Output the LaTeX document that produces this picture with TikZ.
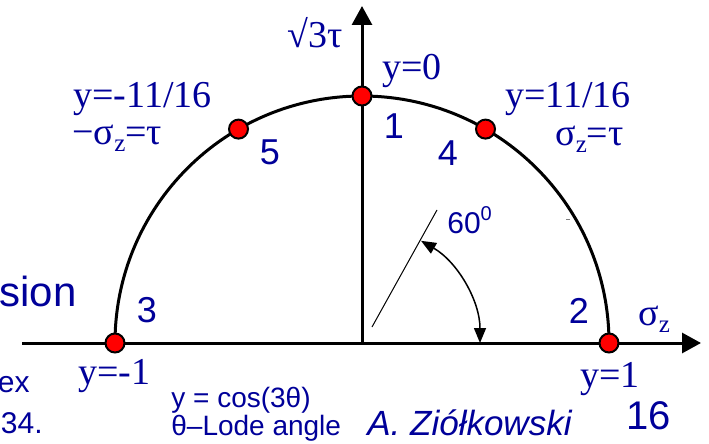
\documentclass[tikz,border=0pt]{standalone}
\usepackage{fontspec}
\setmainfont{Liberation Sans}
\newfontfamily\tnr{Liberation Serif}
\usepackage{tikz}
\usetikzlibrary{arrows.meta}
\definecolor{navy}{RGB}{0,0,153}
\tikzset{every picture/.style={line width=0.75pt}}
\tikzset{
  serif/.style={text=navy,inner sep=0pt,anchor=base west,font=\tnr\fontsize{38}{38}\selectfont},
  sans/.style={text=navy,inner sep=0pt,font=\fontsize{36}{36}\selectfont},
  dot/.style={circle,draw=black,fill=red,line width=2pt,minimum size=19pt,inner sep=0pt},
}
\newcommand{\zsub}{\raisebox{-7pt}{\fontsize{25}{25}\selectfont z}}
\begin{document}
\begin{tikzpicture}[x=1pt,y=1pt,yscale=-1,xscale=1]
    \useasboundingbox (0,0) rectangle (709,444);
    \coordinate (O) at (362,343);
    \coordinate (xl) at (22,343);
    \coordinate (xr) at (701,343);
    \coordinate (yt) at (362,6);
    % axes and the half circle
    \draw [line width=3pt,-{Triangle[length=19pt,width=20pt]}] (xl) -- (xr) ;
    \draw [line width=3pt,-{Triangle[length=19pt,width=20pt]}] (O) -- (yt) ;
    \draw [line width=3pt] ([shift={(0:247)}]O) arc [start angle=0,end angle=-180,radius=247] ;
    % angle of 60 deg
    \coordinate (a0) at (372,327);
    \coordinate (a1) at (437,210);
    \draw [line width=1pt] (a0) -- (a1) ;
    \coordinate (g0) at ([shift={(-60:118)}]O);
    \draw [line width=1.5pt,{Triangle[length=15pt,width=12pt]}-{Triangle[length=15pt,width=12pt]}] (g0) arc [start angle=-60,end angle=0,radius=118] ;
    \draw [gray,line width=0.8pt] (566,219) -- (570,219) ;
    % points on the circle
    \node [dot] (p1) at ([shift={(-90:247)}]O) {};
    \node [dot] (p2) at ([shift={(0:247)}]O) {};
    \node [dot] (p3) at ([shift={(-180:247)}]O) {};
    \node [dot] (p4) at ([shift={(-60:247)}]O) {};
    \node [dot] (p5) at ([shift={(-120:247)}]O) {};
    \node [sans] (n1) at (394,126) {1};
    \node [sans] (n2) at (579,311) {2};
    \node [sans] (n3) at (147,310) {3};
    \node [sans] (n4) at (448,153) {4};
    \node [sans] (n5) at (270,152) {5};
    % labels
    \node [serif] (ylab) at (287,48) {√3τ};
    \node [serif] (xlab) at (638,325) {σ\zsub};
    \node [serif] (y0) at (382,79) {y=0};
    \node [serif] (ym) at (73,107) {y=-11/16};
    \node [serif] (sm) at (72,144) {−σ\zsub=τ};
    \node [serif] (yp) at (505,107) {y=11/16};
    \node [serif] (sp) at (555,145) {σ\zsub=τ};
    \node [serif] (ym1) at (78,384) {y=-1};
    \node [serif] (yp1) at (580,387) {y=1};
    \node [sans,anchor=base west,font=\fontsize{30}{30}\selectfont] (ang) at (447,233) {60\raisebox{13pt}{\fontsize{20}{20}\selectfont 0}};
    \node [sans,anchor=base east,font=\fontsize{42}{42}\selectfont] (sion) at (77,306) {sion};
    \node [sans,anchor=base east,font=\fontsize{30}{30}\selectfont] (ex) at (30,392) {ex};
    \node [sans,anchor=base east,font=\fontsize{30}{30}\selectfont] (n34) at (43,433) {34.};
    \node [sans,anchor=base west,font=\fontsize{28}{28}\selectfont] (cos) at (171,407) {y = cos(3θ)};
    \node [sans,anchor=base west,font=\fontsize{28}{28}\selectfont] (lode) at (171,435) {θ–Lode angle};
    \node [sans,anchor=base west,font=\fontsize{35}{35}\selectfont\itshape] (auth) at (367,435) {A. Ziółkowski};
    \node [sans,anchor=base west,font=\fontsize{40}{40}\selectfont] (page) at (626,429) {16};
\end{tikzpicture}
\end{document}
